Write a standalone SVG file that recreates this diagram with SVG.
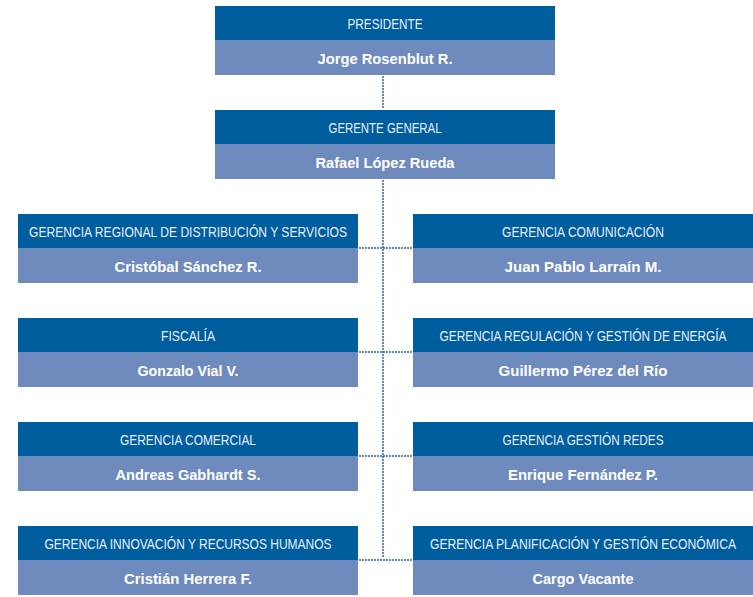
<svg xmlns="http://www.w3.org/2000/svg" width="753" height="597" viewBox="0 0 753 597">
<style>
.hd{fill:#005D9E}
.bd{fill:#6F8BBE}
.t{font-family:"Liberation Sans",Arial,sans-serif;font-size:14px;fill:#E8EEF6;text-anchor:middle}
.n{font-family:"Liberation Sans",Arial,sans-serif;font-size:15px;font-weight:bold;fill:#FFFFFF;text-anchor:middle}
.c{fill:none;stroke:#1F66A8;stroke-width:2;stroke-linecap:round;stroke-dasharray:0 3}
</style>
<rect width="753" height="597" fill="#FFFFFF"/>
<g id="connectors">
<line class="c" x1="383" y1="77" x2="383" y2="109"/>
<line class="c" x1="383" y1="181" x2="383" y2="559"/>
<line class="c" x1="360" y1="248" x2="412" y2="248"/>
<line class="c" x1="360" y1="352" x2="412" y2="352"/>
<line class="c" x1="360" y1="456" x2="412" y2="456"/>
<line class="c" x1="360" y1="560" x2="412" y2="560"/>
</g>
<g id="presidente">
<rect class="hd" x="215" y="6" width="340" height="34"/>
<rect class="bd" x="215" y="40" width="340" height="35"/>
<text class="t" x="385" y="29" textLength="75" lengthAdjust="spacingAndGlyphs">PRESIDENTE</text>
<text class="n" x="385" y="64" textLength="135" lengthAdjust="spacingAndGlyphs">Jorge Rosenblut R.</text>
</g>
<g id="gerente-general">
<rect class="hd" x="215" y="110" width="340" height="34"/>
<rect class="bd" x="215" y="144" width="340" height="35"/>
<text class="t" x="385" y="133" textLength="113" lengthAdjust="spacingAndGlyphs">GERENTE GENERAL</text>
<text class="n" x="385" y="168" textLength="139" lengthAdjust="spacingAndGlyphs">Rafael López Rueda</text>
</g>
<g id="distribucion">
<rect class="hd" x="18" y="214" width="340" height="34"/>
<rect class="bd" x="18" y="248" width="340" height="35"/>
<text class="t" transform="translate(188,237) scale(0.8,1)" x="0" y="0" textLength="397.5" lengthAdjust="spacingAndGlyphs">GERENCIA REGIONAL DE DISTRIBUCIÓN Y SERVICIOS</text>
<text class="n" x="188" y="272" textLength="147" lengthAdjust="spacingAndGlyphs">Cristóbal Sánchez R.</text>
</g>
<g id="comunicacion">
<rect class="hd" x="413" y="214" width="340" height="34"/>
<rect class="bd" x="413" y="248" width="340" height="35"/>
<text class="t" x="583" y="237" textLength="162" lengthAdjust="spacingAndGlyphs">GERENCIA COMUNICACIÓN</text>
<text class="n" x="583" y="272" textLength="157" lengthAdjust="spacingAndGlyphs">Juan Pablo Larraín M.</text>
</g>
<g id="fiscalia">
<rect class="hd" x="18" y="318" width="340" height="34"/>
<rect class="bd" x="18" y="352" width="340" height="35"/>
<text class="t" x="188" y="341" textLength="54" lengthAdjust="spacingAndGlyphs">FISCALÍA</text>
<text class="n" x="188" y="376" textLength="101" lengthAdjust="spacingAndGlyphs">Gonzalo Vial V.</text>
</g>
<g id="regulacion">
<rect class="hd" x="413" y="318" width="340" height="34"/>
<rect class="bd" x="413" y="352" width="340" height="35"/>
<text class="t" transform="translate(583,341) scale(0.8,1)" x="0" y="0" textLength="358.75" lengthAdjust="spacingAndGlyphs">GERENCIA REGULACIÓN Y GESTIÓN DE ENERGÍA</text>
<text class="n" x="583" y="376" textLength="169" lengthAdjust="spacingAndGlyphs">Guillermo Pérez del Río</text>
</g>
<g id="comercial">
<rect class="hd" x="18" y="422" width="340" height="34"/>
<rect class="bd" x="18" y="456" width="340" height="35"/>
<text class="t" x="188" y="445" textLength="136" lengthAdjust="spacingAndGlyphs">GERENCIA COMERCIAL</text>
<text class="n" x="188" y="480" textLength="145" lengthAdjust="spacingAndGlyphs">Andreas Gabhardt S.</text>
</g>
<g id="redes">
<rect class="hd" x="413" y="422" width="340" height="34"/>
<rect class="bd" x="413" y="456" width="340" height="35"/>
<text class="t" x="583" y="445" textLength="161" lengthAdjust="spacingAndGlyphs">GERENCIA GESTIÓN REDES</text>
<text class="n" x="583" y="480" textLength="150" lengthAdjust="spacingAndGlyphs">Enrique Fernández P.</text>
</g>
<g id="innovacion">
<rect class="hd" x="18" y="526" width="340" height="34"/>
<rect class="bd" x="18" y="560" width="340" height="35"/>
<text class="t" transform="translate(188,549) scale(0.8,1)" x="0" y="0" textLength="358.75" lengthAdjust="spacingAndGlyphs">GERENCIA INNOVACIÓN Y RECURSOS HUMANOS</text>
<text class="n" x="188" y="584" textLength="128" lengthAdjust="spacingAndGlyphs">Cristián Herrera F.</text>
</g>
<g id="planificacion">
<rect class="hd" x="413" y="526" width="340" height="34"/>
<rect class="bd" x="413" y="560" width="340" height="35"/>
<text class="t" transform="translate(583,549) scale(0.8,1)" x="0" y="0" textLength="382.5" lengthAdjust="spacingAndGlyphs">GERENCIA PLANIFICACIÓN Y GESTIÓN ECONÓMICA</text>
<text class="n" x="583" y="584" textLength="101" lengthAdjust="spacingAndGlyphs">Cargo Vacante</text>
</g>
</svg>
